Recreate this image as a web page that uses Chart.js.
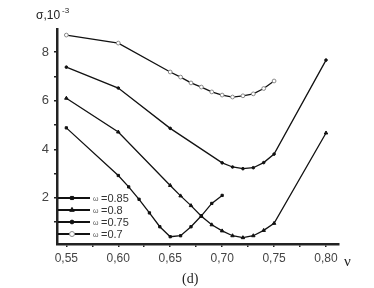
<!DOCTYPE html>
<html>
<head>
<meta charset="utf-8">
<script src="https://cdn.jsdelivr.net/npm/chart.js@4.4.0/dist/chart.umd.min.js"></script>
<style>
  html, body { margin: 0; padding: 0; background: #fff; }
  #wrap { width: 374px; height: 288px; position: relative; }
</style>
</head>
<body>
<div id="wrap"><canvas id="grafico"></canvas></div>
<script>
// Valores (d)
const nu085 = [0.55, 0.60, 0.61, 0.62, 0.63, 0.64, 0.65, 0.66, 0.67, 0.68, 0.69, 0.70]
const sigma085 = [4.88, 2.92, 2.45, 1.94, 1.38, 0.81, 0.40, 0.44, 0.81, 1.26, 1.77, 2.1]

const nu08 = [0.55, 0.60, 0.65, 0.66, 0.67, 0.68, 0.69, 0.70, 0.71, 0.72, 0.73, 0.74, 0.75, 0.80]
const sigma08 = [6.1, 4.71, 2.51, 2.08, 1.68, 1.24, 0.89, 0.64, 0.44, 0.36, 0.44, 0.66, 0.95, 4.67]

const nu075 = [0.55, 0.60, 0.65, 0.70, 0.71, 0.72, 0.73, 0.74, 0.75, 0.80]
const sigma075 = [7.38, 6.52, 4.86, 3.44, 3.27, 3.2, 3.24, 3.45, 3.8, 7.67]

const nu07 = [0.55, 0.60, 0.65, 0.66, 0.67, 0.68, 0.69, 0.70, 0.71, 0.72, 0.73, 0.74, 0.75]
const sigma07 = [8.7, 8.37, 7.18, 6.97, 6.73, 6.56, 6.36, 6.23, 6.15, 6.2, 6.28, 6.5, 6.81]

const etiquetas = ['=0.85', '=0.8', '=0.75', '=0.7']
const xTicks = [0.55, 0.575, 0.60, 0.625, 0.65, 0.675, 0.70, 0.725, 0.75, 0.775, 0.80]
const yTicks = [1, 2, 3, 4, 5, 6, 7, 8]

const puntos = (xs, ys) => xs.map((x, i) => ({ x: x, y: ys[i] }))

function serie(label, xs, ys, estilo, extra) {
  return Object.assign({
    label: label,
    data: puntos(xs, ys),
    borderColor: '#111',
    borderWidth: 1.3,
    pointStyle: estilo,
    pointRadius: 1.6,
    pointBackgroundColor: '#111',
    pointBorderColor: '#111',
    pointBorderWidth: 1,
    tension: 0,
  }, extra || {})
}

const datasets = [
  serie(etiquetas[0], nu085, sigma085, 'rect'),
  serie(etiquetas[1], nu08, sigma08, 'triangle', { pointRadius: 2 }),
  serie(etiquetas[2], nu075, sigma075, 'circle', { pointRadius: 1.3 }),
  serie(etiquetas[3], nu07, sigma07, 'circle', { pointRadius: 1.9, pointBackgroundColor: '#fff', pointBorderColor: '#888' }),
]

// Textos y leyenda
const textos = {
  id: 'textos',
  afterDraw(chart) {
    const ctx = chart.ctx
    const area = chart.chartArea
    ctx.save()
    ctx.fillStyle = '#222'
    ctx.textBaseline = 'alphabetic'
    ctx.font = '12px "Liberation Sans", Arial, sans-serif'
    ctx.textAlign = 'left'
    ctx.fillText('σ,10', 36, 19)
    ctx.font = '8px "Liberation Sans", Arial, sans-serif'
    ctx.fillText('-3', 62, 13)
    ctx.font = '15px "Liberation Serif", serif'
    ctx.fillText('ν', 344, 266)
    ctx.font = '14px "Liberation Serif", serif'
    ctx.fillText('(d)', 182, 283)

    // leyenda
    const filas = [198, 210, 222, 234]
    chart.data.datasets.forEach((ds, i) => {
      const y = filas[i]
      ctx.strokeStyle = '#111'
      ctx.lineWidth = 2
      ctx.beginPath()
      ctx.moveTo(area.left + 1, y)
      ctx.lineTo(90, y)
      ctx.stroke()
      ctx.fillStyle = ds.pointBackgroundColor
      ctx.strokeStyle = ds.pointBorderColor
      ctx.lineWidth = 1
      Chart.helpers.drawPoint(ctx, { pointStyle: ds.pointStyle, radius: ds.pointRadius + 0.6, rotation: 0, borderWidth: 1 }, 72, y)
      ctx.fillStyle = '#555'
      ctx.font = '7px "Liberation Sans", Arial, sans-serif'
      ctx.fillText('ω', 93, y + 3)
      ctx.fillStyle = '#333'
      ctx.font = '11px "Liberation Sans", Arial, sans-serif'
      ctx.fillText(ds.label, 101, y + 4)
    })
    ctx.restore()
  },
}

new Chart(document.getElementById('grafico'), {
  type: 'line',
  data: { datasets: datasets },
  plugins: [textos],
  options: {
    responsive: true,
    maintainAspectRatio: false,
    animation: false,
    layout: { padding: { left: 0, right: 35, top: 29, bottom: 0 } },
    plugins: { legend: { display: false }, tooltip: { enabled: false } },
    scales: {
      x: {
        type: 'linear',
        min: 0.541,
        max: 0.8125,
        afterBuildTicks: (s) => { s.ticks = xTicks.map((v) => ({ value: v })) },
        afterFit: (s) => { s.height = 44 },
        border: { display: true, color: '#222', width: 2.5 },
        grid: { drawOnChartArea: false, color: '#222', tickLength: 3, lineWidth: 1.5 },
        ticks: {
          color: '#444',
          padding: 4,
          maxRotation: 0,
          autoSkip: false,
          font: { family: '"Liberation Sans", Arial, sans-serif', size: 12 },
          callback: (v) => (Math.round(v * 1000) % 50 === 0 ? v.toFixed(2).replace('.', ',') : ''),
        },
      },
      y: {
        min: 0.1,
        max: 8.95,
        afterBuildTicks: (s) => { s.ticks = yTicks.map((v) => ({ value: v })) },
        afterFit: (s) => { s.width = 57 },
        border: { display: true, color: '#222', width: 2.5 },
        grid: { drawOnChartArea: false, color: '#222', tickLength: 3, lineWidth: 1.5 },
        ticks: {
          color: '#444',
          padding: 5,
          autoSkip: false,
          font: { family: '"Liberation Sans", Arial, sans-serif', size: 13 },
          callback: (v) => (v % 2 === 0 ? String(v) : ''),
        },
      },
    },
  },
})
</script>
</body>
</html>
